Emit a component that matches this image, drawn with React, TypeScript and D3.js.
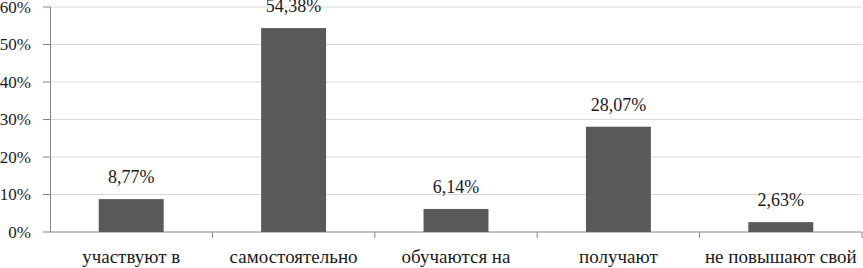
import * as d3 from "d3";

const categories = [
  "участвуют в",
  "самостоятельно",
  "обучаются на",
  "получают",
  "не повышают свой",
];
const values = [8.77, 54.38, 6.14, 28.07, 2.63];
const yTicks = [0, 10, 20, 30, 40, 50, 60];

const W = 863;
const H = 268;
const FONT = "Liberation Serif";
const AXIS = "#868686";
const TEXT = "#1a1a1a";

function App() {
  const margin = { top: 7, right: 1, bottom: 36, left: 50 };
  const innerW = W - margin.left - margin.right;
  const innerH = H - margin.top - margin.bottom;

  // scales
  const x = d3
    .scaleBand()
    .domain(categories)
    .range([0, innerW])
    .paddingInner(0.6)
    .paddingOuter(0.3);
  const y = d3.scaleLinear().domain([0, 60]).range([innerH, 0]);
  const step = x.step();
  const fmt = (d: number) => d.toFixed(2).replace(".", ",") + "%";

  return (
    <div style={{ position: "absolute", left: 0, top: 0 }}>
      <svg width={W} height={H} style={{ display: "block", background: "#fff" }}>
        <g transform={`translate(${margin.left},${margin.top})`}>
          {/* gridlines */}
          {yTicks.slice(1).map((t) => (
            <line key={"g" + t} x1={0} x2={innerW} y1={y(t)} y2={y(t)} stroke="#d9d9d9" />
          ))}

          {/* y axis */}
          <line x1={0.5} x2={0.5} y1={0} y2={innerH} stroke={AXIS} />
          {yTicks.map((t) => (
            <g key={"y" + t} transform={`translate(0,${y(t)})`}>
              <line x1={-7} x2={0} stroke={AXIS} />
              <text
                x={-19}
                dy="0.35em"
                textAnchor="end"
                fontFamily={FONT}
                fontSize={17}
                fill={TEXT}
              >
                {t}%
              </text>
            </g>
          ))}

          {/* x axis */}
          <g transform={`translate(0,${innerH})`}>
            <line x1={0} x2={innerW} stroke={AXIS} />
            {d3.range(1, categories.length + 1).map((i) => (
              <line key={"xt" + i} x1={i * step} x2={i * step} y1={0} y2={6} stroke={AXIS} />
            ))}
            {categories.map((c) => (
              <text
                key={c}
                x={x(c)! + x.bandwidth() / 2}
                y={31}
                textAnchor="middle"
                fontFamily={FONT}
                fontSize={19}
                fill={TEXT}
              >
                {c}
              </text>
            ))}
          </g>

          {/* bars */}
          {values.map((v, i) => (
            <rect
              key={"b" + i}
              x={x(categories[i])}
              y={y(v)}
              width={x.bandwidth()}
              height={innerH - y(v)}
              fill="#595959"
            />
          ))}

          {/* value labels */}
          {values.map((v, i) => (
            <text
              key={"v" + i}
              x={x(categories[i])! + x.bandwidth() / 2}
              y={y(v) - 16}
              textAnchor="middle"
              fontFamily={FONT}
              fontSize={18}
              fill={TEXT}
            >
              {fmt(v)}
            </text>
          ))}
        </g>
      </svg>
    </div>
  );
}

export default App;
